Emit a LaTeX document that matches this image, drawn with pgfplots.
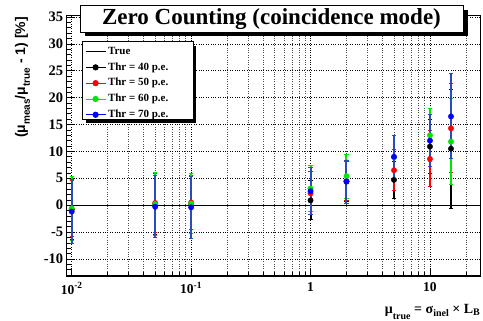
\documentclass[border=0pt]{standalone}
\usepackage{pgfplots}
\pgfplotsset{compat=1.18}
\usepackage{fontspec}
\setmainfont{Liberation Serif}
\setsansfont{Liberation Sans}
\definecolor{rootred}{RGB}{255,0,0}
\definecolor{rootgreen}{RGB}{0,230,0}
\definecolor{rootblue}{RGB}{0,0,255}
\definecolor{rootbluebar}{RGB}{40,75,190}
\newcommand{\sub}[2]{\raisebox{#1}{\fontsize{10}{10}\selectfont #2}}

\pgfplotstableread{
x     y     ep   em
0.01  -0.8  5.5  5.5
0.05   0.1  5.5  5.5
0.1    0.1  5.3  5.3
1      0.9  3.6  3.6
2      4.4  3.8  3.8
5      4.7  3.5  3.5
10    10.9  5.0  5.0
15    10.5 11.1 11.1
}\thrforty
\pgfplotstableread{
x     y     ep   em
0.01  -0.7  5.2  5.2
0.05   0.4  5.4  5.4
0.1    0.5  5.1  5.1
1      2.2  4.0  4.0
2      4.5  3.6  3.6
5      6.5  3.8  3.8
10     8.6  5.2  5.2
15    14.3  8.3  8.3
}\thrfifty
\pgfplotstableread{
x     y     ep   em
0.01  -0.6  6.0  6.0
0.05   0.2  5.9  5.9
0.1    0.3  5.5  5.5
1      3.1  4.3  4.3
2      5.4  4.1  4.1
5      8.9  4.0  4.0
10    13.0  4.9  4.9
15    11.8  8.0  8.0
}\thrsixty
\pgfplotstableread{
x     y     ep   em
0.01  -1.2  6.0  6.0
0.05  -0.3  5.8  5.8
0.1   -0.4  5.8  5.8
1      2.6  4.4  4.4
2      4.4  4.0  4.0
5      9.0  4.0  4.0
10    12.0  4.8  4.8
15    16.5  7.9  7.9
}\thrseventy

\pgfplotsset{
  thr/.style={only marks, mark=*, mark size=2.7pt, forget plot,
    /pgfplots/error bars/y dir=both, /pgfplots/error bars/y explicit,
    /pgfplots/error bars/error bar style={line width=2pt, solid},
    /pgfplots/error bars/error mark=-,
    /pgfplots/error bars/error mark options={rotate=90, mark size=2.2pt, line width=1pt}},
}

\begin{document}
\begin{tikzpicture}
\path[use as bounding box, fill=white] (0pt,0pt) rectangle (483pt,321pt);
\begin{axis}[
  at={(66.7pt,45pt)}, anchor=south west,
  scale only axis, width=413.8pt, height=260.3pt,
  xmode=log, xmin=0.00908, xmax=26.5,
  ymin=-13.17, ymax=35.24,
  xtick={0.01,0.1,1,10},
  xticklabels={10\textsuperscript{-2},10\textsuperscript{-1},1,10},
  minor xtick={0.02,0.03,0.04,0.05,0.06,0.07,0.08,0.09,0.2,0.3,0.4,0.5,0.6,0.7,0.8,0.9,2,3,4,5,6,7,8,9,20},
  ytick={-10,-5,0,5,10,15,20,25,30,35},
  minor ytick={-13,-12,-11,-9,-8,-7,-6,-4,-3,-2,-1,1,2,3,4,6,7,8,9,11,12,13,14,16,17,18,19,21,22,23,24,26,27,28,29,31,32,33,34},
  xmajorgrids, xminorgrids, ymajorgrids, yminorgrids=false,
  major grid style={black, dotted, line width=0.6pt},
  minor grid style={black!70, dotted, line width=0.5pt},
  xtick pos=left, ytick pos=left, tick align=inside,
  major tick length=8pt, minor tick length=4pt,
  tick style={black, line width=0.6pt},
  axis line style={line width=1.2pt},
  /pgf/number format/assume math mode=true,
  yticklabel style={font=\fontsize{14.5}{14.5}\selectfont\bfseries},
  xticklabel style={font=\fontsize{13.5}{13.5}\selectfont\bfseries, yshift=-3pt},
  legend image code/.code={\draw[mark repeat=2,mark phase=2,#1] plot coordinates {(0pt,0pt) (10pt,0pt) (20pt,0pt)};},
  legend style={at={(rel axis cs:0.037,0.9004)}, anchor=north west, draw=none, fill=none,
    inner xsep=3pt, inner ysep=4.5pt, row sep=5.3pt,
    font=\fontsize{11}{11}\selectfont\bfseries,
    nodes={inner ysep=0pt, inner xsep=2pt, text height=8pt, text depth=2.5pt}},
  legend cell align=left,
]
\addplot[black, line width=1pt, forget plot] coordinates {(0.00908,0) (26.5,0)};

\addplot[black, thr] table[x=x, y=y, y error plus=ep, y error minus=em] {\thrforty};
\addplot[rootred, thr] table[x=x, y=y, y error plus=ep, y error minus=em] {\thrfifty};
\addplot[rootgreen, thr] table[x=x, y=y, y error plus=ep, y error minus=em] {\thrsixty};
\addplot[rootblue, thr, /pgfplots/error bars/error bar style={rootbluebar}] table[x=x, y=y, y error plus=ep, y error minus=em] {\thrseventy};

\fill[black] (rel axis cs:0.0467,0.5860) rectangle (rel axis cs:0.3115,0.8850);
\filldraw[fill=white, draw=black, line width=0.8pt] (rel axis cs:0.0378,0.6015) rectangle (rel axis cs:0.3061,0.9004);

\addlegendimage{black, line width=0.8pt}
\addlegendimage{black, line width=0.8pt, mark=*, mark size=2.7pt}
\addlegendimage{rootred, line width=0.8pt, mark=*, mark size=2.7pt}
\addlegendimage{rootgreen, line width=0.8pt, mark=*, mark size=2.7pt}
\addlegendimage{rootblue, line width=0.8pt, mark=*, mark size=2.7pt}
\legend{True, Thr = 40 p.e., Thr = 50 p.e., Thr = 60 p.e., Thr = 70 p.e.}
\end{axis}

\fill[black] (84.5pt,284.5pt) rectangle (467.5pt,311pt);
\filldraw[fill=white, draw=black, line width=0.8pt] (80pt,289pt) rectangle (463pt,315.3pt);
\node[font=\fontsize{23}{23}\selectfont\bfseries] at (271.5pt,302pt) {Zero Counting (coincidence mode)};

\node[anchor=base east, font=\fontsize{14}{14}\selectfont\bfseries, inner sep=0pt] at (480pt,7pt)
  {μ\sub{-6pt}{true} = σ\sub{-3pt}{inel} × L\sub{-2pt}{B}};
\node[rotate=90, anchor=base east, font=\sffamily\fontsize{14}{14}\selectfont\bfseries, inner sep=0pt] at (25pt,304pt)
  {(μ\sub{-5pt}{meas}/μ\sub{-5pt}{true} - 1) [\%]};
\end{tikzpicture}
\end{document}
